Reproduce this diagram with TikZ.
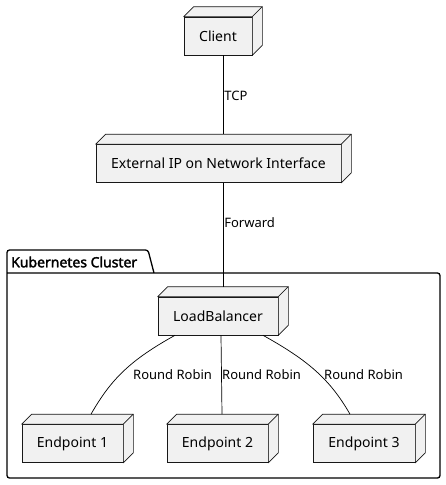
\documentclass[tikz,border=0pt]{standalone}
\usepackage{fontspec}
\setmainfont{Noto Sans}
\newfontfamily\titlefont{Noto Sans}[FakeBold=2.2]
\definecolor{nodefill}{HTML}{F1F1F1}
\definecolor{nodeline}{HTML}{181818}
\tikzset{
  box3d/.style={draw=nodeline, fill=nodefill, line width=0.6pt, minimum height=38pt, inner sep=0pt, font=\fontsize{14}{16}\selectfont},
  face/.style={draw=nodeline, fill=nodefill, line width=0.6pt, line join=round},
  conn/.style={draw=black, line width=0.7pt},
  lbl/.style={anchor=west, inner sep=0pt, font=\fontsize{13}{15}\selectfont},
  pkg/.style={draw=black, line width=1.3pt, rounded corners=2.5pt},
}
\begin{document}
\begin{tikzpicture}[x=1pt,y=-1pt]
\fill[white] (0,0) rectangle (446,485);
\useasboundingbox (0,0) rectangle (446,485);

% package
\draw[pkg] (7,273) -- (440,273) -- (440,478) -- (7,478) -- (7,250) -- (148,250) -- (154,273);
\node[anchor=west, inner sep=0pt, font=\titlefont\fontsize{14}{16}\selectfont] (pkgtitle) at (11,262) {Kubernetes Cluster};

% nodes
\node[box3d, minimum width=68pt] (client) at (218,36) {Client};
\node[box3d, minimum width=245pt] (ext) at (218.5,163.5) {External IP on Network Interface};
\node[box3d, minimum width=120pt] (lb) at (218,316) {LoadBalancer};
\node[box3d, minimum width=101pt] (e1) at (72.5,443.5) {Endpoint 1};
\node[box3d, minimum width=101pt] (e2) at (217.5,443.5) {Endpoint 2};
\node[box3d, minimum width=102pt] (e3) at (364,443.5) {Endpoint 3};

\foreach \n in {client,ext,lb,e1,e2,e3}{
  \filldraw[face] (\n.north west) -- ([shift={(10pt,10pt)}]\n.north west) -- ([shift={(10pt,10pt)}]\n.north east) -- (\n.north east) -- cycle;
  \filldraw[face] (\n.north east) -- ([shift={(10pt,10pt)}]\n.north east) -- ([shift={(10pt,10pt)}]\n.south east) -- (\n.south east) -- cycle;
}

% connectors
\draw[conn] ([xshift=5pt]client.south) -- node[lbl, pos=0.52, xshift=1pt] (tcp) {TCP} ([xshift=4.5pt,yshift=10pt]ext.north);
\draw[conn] ([xshift=4.5pt]ext.south) -- node[lbl, pos=0.385, xshift=1pt] (fwd) {Forward} ([xshift=5pt,yshift=10pt]lb.north);
\draw[conn] ([xshift=-43pt]lb.south) .. controls +(-45,25) and +(20,-35) .. ([xshift=18.5pt,yshift=10pt]e1.north);
\draw[conn] ([xshift=3pt]lb.south) -- ([xshift=4.5pt,yshift=10pt]e2.north);
\draw[conn] ([xshift=45pt]lb.south) .. controls +(45,25) and +(-20,-35) .. ([xshift=-14pt,yshift=10pt]e3.north);

\node[lbl] (rr1) at (133,375) {Round Robin};
\node[lbl] (rr2) at (222,375) {Round Robin};
\node[lbl] (rr3) at (324,375) {Round Robin};
\end{tikzpicture}
\end{document}
